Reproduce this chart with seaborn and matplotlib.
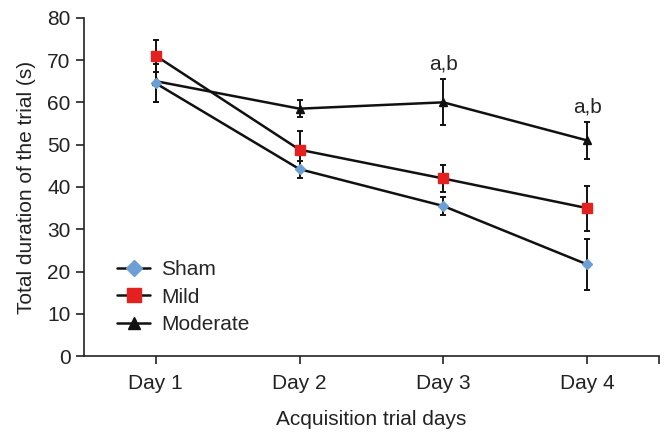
import numpy as np
import pandas as pd
import seaborn as sns
import matplotlib.pyplot as plt

days = ["Day 1", "Day 2", "Day 3", "Day 4"]
groups = ["Sham", "Mild", "Moderate"]

sham_mean = [64.5, 44.2, 35.5, 21.7]
sham_err = [4.5, 2.0, 2.2, 6.0]
mild_mean = [71.0, 48.8, 42.0, 35.0]
mild_err = [3.8, 4.4, 3.3, 5.3]
moderate_mean = [65.0, 58.5, 60.0, 51.0]
moderate_err = [5.0, 2.0, 5.4, 4.3]

sig_labels = ["", "", "a,b", "a,b"]

colors = {"Sham": "#6c9fd6", "Mild": "#e3211f", "Moderate": "#111111"}
markers = {"Sham": "D", "Mild": "s", "Moderate": "^"}
sizes = {"Sham": 5, "Mild": 7, "Moderate": 6}

means = {"Sham": sham_mean, "Mild": mild_mean, "Moderate": moderate_mean}
errs = {"Sham": sham_err, "Mild": mild_err, "Moderate": moderate_err}

df = pd.DataFrame({
    "day": np.tile(np.arange(1, 5), 3),
    "value": sham_mean + mild_mean + moderate_mean,
    "group": np.repeat(groups, 4),
})

sns.set_style("ticks")
plt.rcParams["font.family"] = ["Liberation Sans", "DejaVu Sans"]

fs = 15

fig = plt.figure(figsize=(6.71, 4.43), dpi=100)
ax = fig.add_axes([0.125, 0.196, 0.857, 0.764])

# error bars first so the lines sit on top
for g in groups[::-1]:
    ax.errorbar(
        np.arange(1, 5), means[g], yerr=errs[g],
        fmt="none", ecolor="#111111", elinewidth=1.4,
        capsize=2.5, capthick=1.4, zorder=2
    )

for g in groups[::-1]:
    sub = df[df["group"] == g]
    sns.lineplot(
        data=sub, x="day", y="value", ax=ax,
        color="#111111", linewidth=1.8, zorder=3, legend=False
    )
    ax.plot(
        sub["day"], sub["value"], linestyle="none",
        marker=markers[g], markersize=sizes[g],
        color=colors[g], markeredgecolor=colors[g], zorder=4
    )

# legend handles
handles = []
for g in groups:
    h, = ax.plot([], [], color="#111111", linewidth=1.8,
                 marker=markers[g], markersize=sizes[g] + 3,
                 markerfacecolor=colors[g], markeredgecolor=colors[g], label=g)
    handles.append(h)
ax.legend(handles=handles, loc="lower left", bbox_to_anchor=(0.025, 0.01),
          frameon=False, fontsize=fs, handlelength=1.6, handletextpad=0.5,
          labelspacing=0.4)

for i, lab in enumerate(sig_labels):
    if lab:
        ax.text(i + 1, moderate_mean[i] + moderate_err[i] + 1.4, lab,
                ha="center", va="bottom", fontsize=fs)

ax.set_xlim(0.5, 4.5)
ax.set_ylim(0, 80)
ax.set_xticks(range(1, 5))
ax.set_xticklabels(days)
ax.set_xticks([4.5], minor=True)
ax.set_yticks(range(0, 81, 10))
ax.tick_params(axis="both", which="both", labelsize=fs, length=6, width=1.2,
               color="#222222", labelcolor="#222222")
ax.tick_params(axis="x", pad=7)
for s in ["left", "bottom"]:
    ax.spines[s].set_linewidth(1.2)
    ax.spines[s].set_color("#222222")
sns.despine(ax=ax)

ax.set_xlabel("Acquisition trial days", fontsize=fs, labelpad=12, color="#222222")
ax.set_ylabel("Total duration of the trial (s)", fontsize=fs, labelpad=8, color="#222222")

fig.savefig("out.png", dpi=100)
